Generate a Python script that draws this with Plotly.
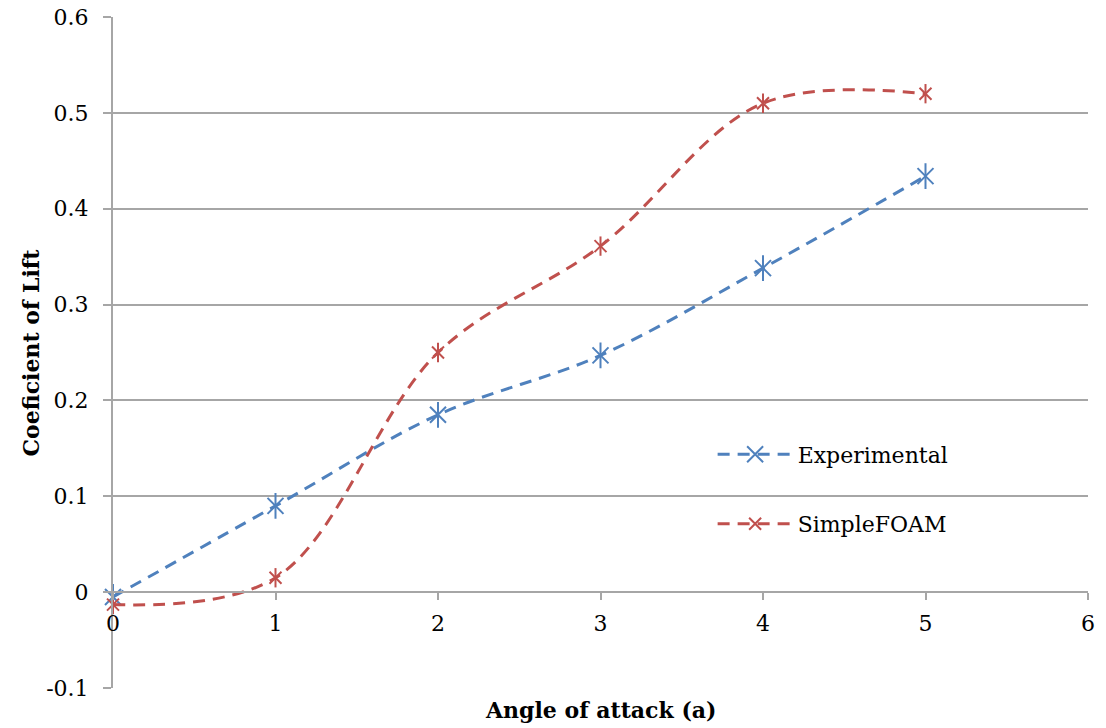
import plotly.graph_objects as go

angle = [0, 1, 2, 3, 4, 5]
experimental = [-0.005, 0.090, 0.185, 0.247, 0.338, 0.434]
simplefoam = [-0.013, 0.015, 0.250, 0.361, 0.510, 0.520]
y_ticks = [-0.1, 0, 0.1, 0.2, 0.3, 0.4, 0.5, 0.6]
y_tick_text = ["-0.1", "0", "0.1", "0.2", "0.3", "0.4", "0.5", "0.6"]
x_ticks = [0, 1, 2, 3, 4, 5, 6]

BLUE = "#4f81bd"
RED = "#c0504d"
GRID = "#a6a6a6"
FONT = "DejaVu Serif"

fig = go.Figure()

def add_series(name, y, color, size):
    fig.add_trace(go.Scatter(
        x=angle, y=y, name=name, mode="lines+markers", legendgroup=name,
        line=dict(color=color, width=3, dash="12px,8px", shape="spline", smoothing=1),
        marker=dict(symbol="x-thin-open", size=size, color=color, line=dict(color=color, width=2)),
        cliponaxis=False,
    ))
    fig.add_trace(go.Scatter(
        x=angle, y=y, mode="markers", showlegend=False, legendgroup=name,
        marker=dict(symbol="line-ns-open", size=size * 1.15, color=color, line=dict(color=color, width=2)),
        cliponaxis=False, hoverinfo="skip",
    ))

add_series("Experimental", experimental, BLUE, 16)
add_series("SimpleFOAM", simplefoam, RED, 12)

fig.update_layout(
    width=1106, height=728,
    margin=dict(l=113, r=18, t=17, b=40, autoexpand=False),
    paper_bgcolor="white", plot_bgcolor="white",
    font=dict(family=FONT, size=22, color="black"),
    showlegend=True,
    legend=dict(x=0.615, y=0.296, xanchor="left", yanchor="middle",
                bgcolor="rgba(0,0,0,0)", tracegroupgap=38,
                font=dict(family=FONT, size=22), itemwidth=75),
    xaxis=dict(range=[0, 6], tickvals=x_ticks, showgrid=False, zeroline=False,
               showline=True, linecolor=GRID, linewidth=2,
               ticks="outside", ticklen=7, tickcolor=GRID, tickwidth=2,
               anchor="free", position=1/7, tickfont=dict(size=22),
               automargin=False, ticklabelstandoff=4),
    yaxis=dict(range=[-0.1, 0.6], tickvals=y_ticks, ticktext=y_tick_text,
               showgrid=True, gridcolor=GRID, gridwidth=2, zeroline=False,
               showline=True, linecolor=GRID, linewidth=2,
               ticks="outside", ticklen=8, tickcolor=GRID, tickwidth=2,
               tickfont=dict(size=22), automargin=False, ticklabelstandoff=10),
    annotations=[
        dict(text="<b>Angle of attack (a)</b>", x=0.5, y=0, xref="paper", yref="paper",
             xanchor="center", yanchor="middle", yshift=-22, showarrow=False,
             font=dict(family=FONT, size=22)),
        dict(text="<b>Coeficient of Lift</b>", x=0, y=0.5, xref="paper", yref="paper",
             xanchor="center", yanchor="middle", xshift=-83, textangle=-90, showarrow=False,
             font=dict(family=FONT, size=22)),
    ],
)

fig.write_html("out.html")
